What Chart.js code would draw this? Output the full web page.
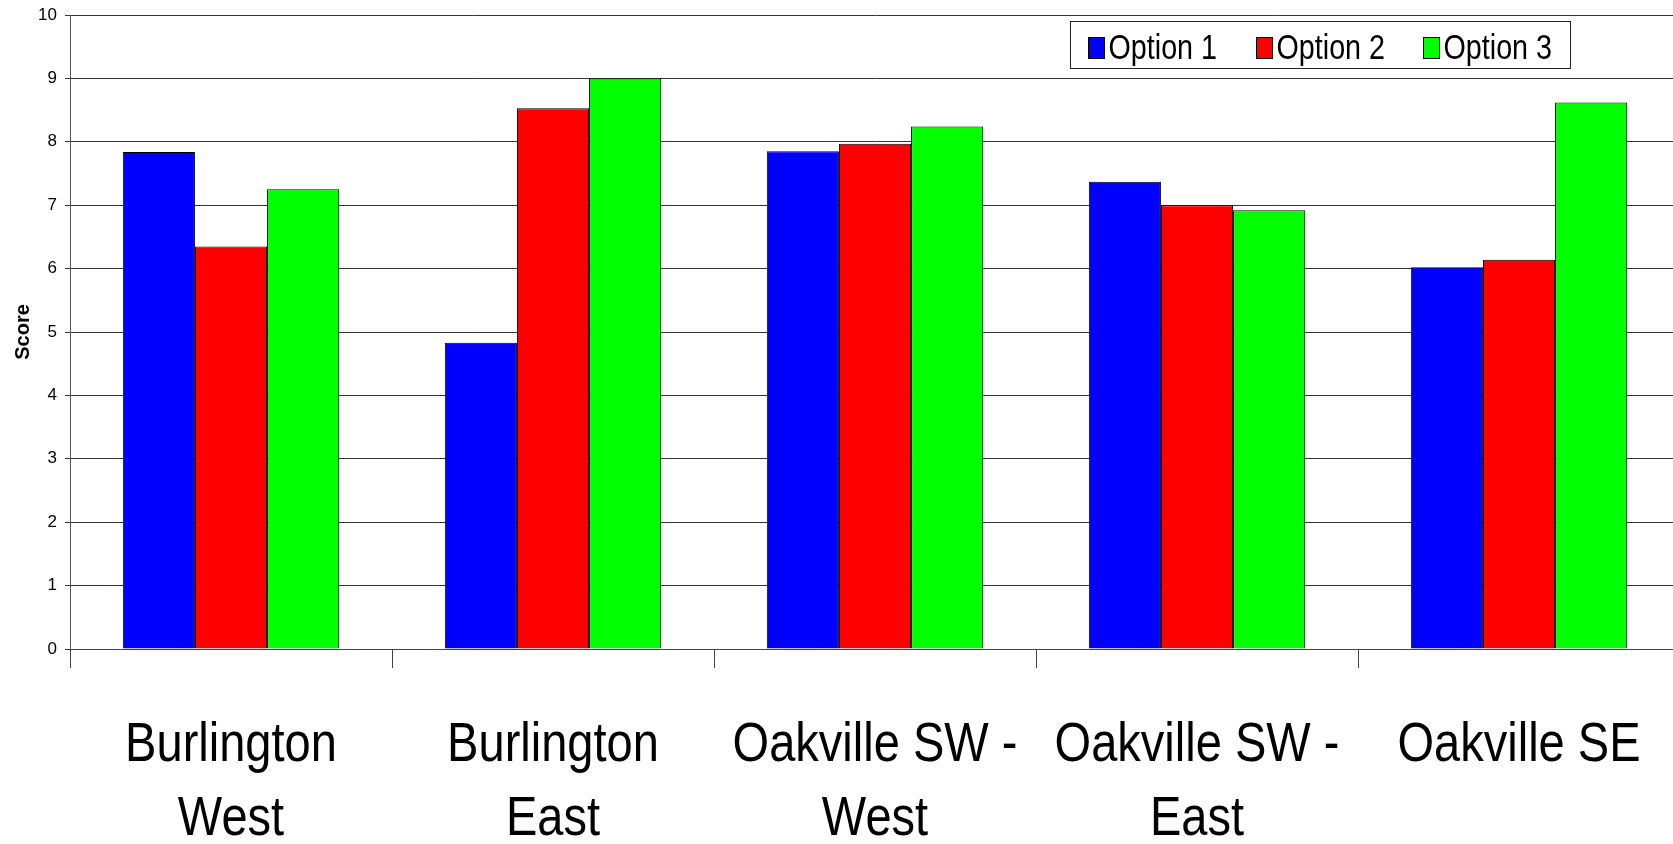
<!DOCTYPE html>
<html>
<head>
<meta charset="utf-8">
<script src="https://cdn.jsdelivr.net/npm/chart.js@4.4.1/dist/chart.umd.min.js"></script>
<style>
  html, body { margin: 0; padding: 0; background: #fff; overflow: hidden; }
  #wrap { width: 1673px; height: 844px; overflow: hidden; }
  canvas { display: block; }
</style>
</head>
<body>
<div id="wrap"><canvas id="chart" width="1680" height="844"></canvas></div>
<script>
// Site categories (two-line labels where the name wraps)
const categories = [
  ['Burlington', 'West'],
  ['Burlington', 'East'],
  ['Oakville SW -', 'West'],
  ['Oakville SW -', 'East'],
  ['Oakville SE']
];

// Scores per option
const option1 = [7.84, 4.83, 7.85, 7.37, 6.02];
const option2 = [6.35, 8.53, 7.97, 7.00, 6.14];
const option3 = [7.25, 9.00, 8.24, 6.92, 8.62];

const seriesNames = ['Option 1', 'Option 2', 'Option 3'];
const seriesColors = ['#0000ff', '#ff0000', '#00ff00'];

const SANS = "'Liberation Sans', Arial, sans-serif";
const CONDENSE = 0.84; // horizontal squeeze for the narrow label face

// Category names under the axis, drawn in a condensed face
const narrowCategoryLabels = {
  id: 'narrowCategoryLabels',
  afterDraw(chart) {
    const ctx = chart.ctx;
    const xs = chart.scales.x;
    ctx.save();
    ctx.font = '56px ' + SANS;
    ctx.fillStyle = '#000';
    ctx.textAlign = 'center';
    ctx.textBaseline = 'alphabetic';
    chart.data.labels.forEach((lab, i) => {
      const lines = Array.isArray(lab) ? lab : [lab];
      const cx = xs.getPixelForTick(i);
      lines.forEach((line, j) => {
        ctx.save();
        ctx.translate(cx, xs.top + 112 + j * 73.5);
        ctx.scale(CONDENSE, 1);
        ctx.fillText(line, 0, 0);
        ctx.restore();
      });
    });
    ctx.restore();
  }
};

// Boxed legend drawn in the upper right of the plot
const boxedLegend = {
  id: 'boxedLegend',
  afterDraw(chart) {
    const ctx = chart.ctx;
    ctx.save();
    const bx = 1070.5, by = 21.5, bw = 500, bh = 47;
    ctx.fillStyle = '#ffffff';
    ctx.fillRect(bx, by, bw, bh);
    ctx.strokeStyle = '#222';
    ctx.lineWidth = 1;
    ctx.strokeRect(bx, by, bw, bh);
    ctx.font = '35px ' + SANS;
    ctx.textBaseline = 'alphabetic';
    ctx.textAlign = 'left';
    chart.data.datasets.forEach((ds, i) => {
      const sx = Math.round(1088 + i * 167.7) + 0.5;
      ctx.fillStyle = ds.backgroundColor;
      ctx.fillRect(sx, 37.5, 16, 21);
      ctx.strokeStyle = '#000';
      ctx.strokeRect(sx, 37.5, 16, 21);
      ctx.save();
      ctx.translate(sx + 20, 58.5);
      ctx.scale(0.82, 1);
      ctx.fillStyle = '#000';
      ctx.fillText(ds.label, 0, 0);
      ctx.restore();
    });
    ctx.restore();
  }
};

const datasets = [option1, option2, option3].map((vals, i) => ({
  label: seriesNames[i],
  data: vals,
  backgroundColor: seriesColors[i],
  borderColor: '#000',
  borderWidth: 1,
  categoryPercentage: 0.672,
  barPercentage: 1.0
}));

new Chart(document.getElementById('chart'), {
  type: 'bar',
  data: { labels: categories, datasets },
  plugins: [narrowCategoryLabels, boxedLegend],
  options: {
    responsive: false,
    animation: false,
    devicePixelRatio: 1,
    layout: { padding: { top: 15, right: 0, left: 0, bottom: 0 } },
    plugins: {
      legend: { display: false },
      tooltip: { enabled: false }
    },
    scales: {
      x: {
        offset: true,
        grid: {
          offset: true,
          drawOnChartArea: false,
          drawTicks: true,
          tickLength: 19,
          color: '#444'
        },
        border: { display: true, color: '#444', width: 1 },
        ticks: { display: false, autoSkip: false, maxRotation: 0 },
        afterFit(scale) { scale.height = 195; }
      },
      y: {
        min: 0,
        max: 10,
        grid: {
          color: '#333',
          lineWidth: 1,
          drawTicks: true,
          tickLength: 5
        },
        border: { display: true, color: '#555', width: 1 },
        ticks: {
          stepSize: 1,
          padding: 8,
          color: '#000',
          font: { family: SANS, size: 17 }
        },
        title: {
          display: true,
          text: 'Score',
          color: '#000',
          padding: { top: 11, bottom: 0 },
          font: { family: SANS, size: 20, weight: 'bold' }
        },
        afterFit(scale) {
          scale.width = 70;
          scale.paddingTop = 0;
          scale.paddingBottom = 0;
        }
      }
    }
  }
});
</script>
</body>
</html>
